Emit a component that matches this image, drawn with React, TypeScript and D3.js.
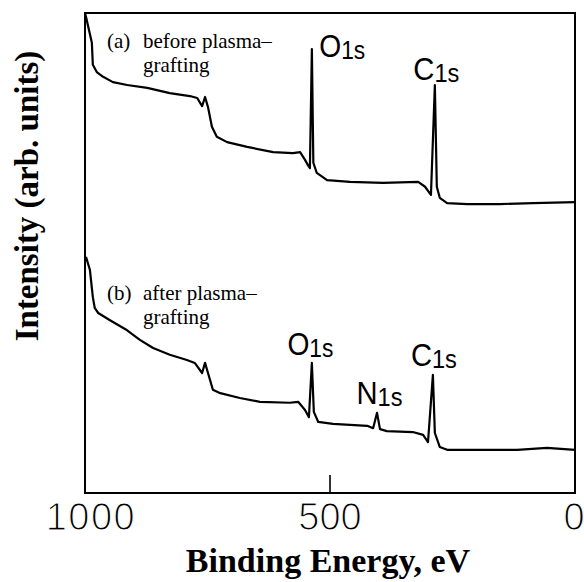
import { useEffect, useRef } from "react";
import * as d3 from "d3";

// XPS survey spectra (binding energy in eV, intensity in arb. units)
const energyA = [1000, 998, 986, 984, 976, 963, 943, 914, 873, 827, 786, 771, 761, 755, 749, 741, 731, 710, 669, 616, 576, 561, 551, 545, 541, 537, 534, 527, 506, 459, 392, 320, 306, 294, 286, 282, 276, 261, 220, 153, 86, 0];
const intensityA = [100, 99.2, 93.8, 89.2, 87.7, 86.7, 85.6, 85.0, 84.4, 83.3, 82.7, 82.3, 80.6, 82.5, 80.4, 76.3, 74.2, 73.1, 72.1, 71.0, 70.8, 71.0, 69.4, 68.3, 67.7, 92.5, 68.8, 66.7, 65.2, 64.8, 64.6, 64.8, 63.8, 62.1, 85.0, 63.8, 61.5, 60.4, 60.2, 60.2, 60.4, 60.6];

const energyB = [998, 990, 984, 980, 973, 949, 914, 888, 861, 827, 792, 776, 761, 755, 749, 739, 724, 684, 643, 582, 565, 551, 543, 537, 533, 524, 494, 424, 412, 404, 398, 384, 331, 310, 300, 290, 286, 276, 261, 200, 118, 57, 0];
const intensityB = [49.2, 46.5, 40.8, 38.5, 37.5, 36.0, 33.9, 31.9, 30.2, 28.8, 27.7, 27.1, 25.0, 27.1, 25.0, 21.5, 20.8, 19.8, 19.0, 18.8, 19.0, 17.3, 15.8, 27.1, 16.9, 14.8, 14.4, 14.0, 13.5, 16.7, 13.3, 12.9, 12.7, 12.1, 10.6, 24.6, 12.5, 9.6, 9.0, 9.0, 9.0, 9.4, 9.0];

const xTicks = [1000, 500, 0];

// peak labels: element, energy (label anchor), intensity (baseline), anchor
const peakNames = ["O", "C", "O", "N", "C"];
const peakEnergy = [522, 283, 540, 399, 288];
const peakLevel = [90.8, 86.0, 28.8, 18.5, 26.5];
const peakAnchor = ["start", "middle", "middle", "middle", "middle"];

export default function App() {
  const ref = useRef<SVGSVGElement | null>(null);

  useEffect(() => {
    const svgEl = ref.current;
    if (!svgEl) return;

    const width = 584;
    const height = 582;
    const margin = { top: 13, right: 9, bottom: 89, left: 85 };

    const svg = d3.select(svgEl);
    svg.selectAll("*").remove();
    svg.attr("width", width).attr("height", height);

    const x = d3.scaleLinear().domain([1000, 0]).range([margin.left, width - margin.right]);
    const y = d3.scaleLinear().domain([0, 100]).range([height - margin.bottom, margin.top]);

    const sans = "'Liberation Sans', Arial, Helvetica, sans-serif";
    const serif = "'Liberation Serif', 'Times New Roman', Times, serif";

    // ------- frame -------
    svg.append("rect")
      .attr("x", x(1000))
      .attr("y", y(100))
      .attr("width", x(0) - x(1000))
      .attr("height", y(0) - y(100))
      .attr("fill", "none")
      .attr("stroke", "#000")
      .attr("stroke-width", 2);

    // only the middle tick is drawn, pointing inward
    svg.append("line")
      .attr("x1", x(500)).attr("x2", x(500))
      .attr("y1", y(0)).attr("y2", y(0) - 18)
      .attr("stroke", "#000")
      .attr("stroke-width", 1.6);

    // ------- tick labels (white stroke on top thins the glyphs) -------
    svg.selectAll("text.tick")
      .data(xTicks)
      .enter()
      .append("text")
      .attr("class", "tick")
      .attr("x", (d) => (d === 1000 ? x(d) + 6 : d === 0 ? x(d) - 1 : x(d)))
      .attr("y", y(0) + 37)
      .attr("text-anchor", "middle")
      .attr("font-family", sans)
      .attr("font-size", 38)
      .attr("letter-spacing", (d) => (d === 1000 ? 1.5 : 0))
      .attr("fill", "#000")
      .attr("stroke", "#fff")
      .attr("stroke-width", 1.2)
      .text((d) => d);

    // ------- axis titles -------
    svg.append("text")
      .attr("x", 328)
      .attr("y", 572)
      .attr("text-anchor", "middle")
      .attr("font-family", serif)
      .attr("font-weight", "bold")
      .attr("font-size", 34)
      .text("Binding Energy, eV");

    svg.append("text")
      .attr("transform", "translate(38,196) rotate(-90)")
      .attr("text-anchor", "middle")
      .attr("font-family", serif)
      .attr("font-weight", "bold")
      .attr("font-size", 33)
      .text("Intensity (arb. units)");

    // ------- spectra -------
    const line = d3.line<[number, number]>()
      .x((d) => x(d[0]))
      .y((d) => y(d[1]));

    [
      d3.zip(energyA, intensityA) as [number, number][],
      d3.zip(energyB, intensityB) as [number, number][],
    ].forEach((pts) => {
      svg.append("path")
        .attr("d", line(pts))
        .attr("fill", "none")
        .attr("stroke", "#000")
        .attr("stroke-width", 2.2)
        .attr("stroke-linejoin", "round");
    });

    // ------- sample annotations -------
    const notes = [
      { tag: "(a)", l1: "before plasma\u2013", top: 48 },
      { tag: "(b)", l1: "after plasma\u2013", top: 300 },
    ];
    notes.forEach((n) => {
      const g = svg.append("g").attr("font-family", serif).attr("font-size", 21).attr("fill", "#000");
      g.append("text").attr("x", 107).attr("y", n.top).text(n.tag);
      g.append("text").attr("x", 143).attr("y", n.top).text(n.l1);
      g.append("text").attr("x", 143).attr("y", n.top + 24).text("grafting");
    });

    // ------- peak labels -------
    peakNames.forEach((name, i) => {
      const t = svg.append("text")
        .attr("x", x(peakEnergy[i]))
        .attr("y", y(peakLevel[i]))
        .attr("text-anchor", peakAnchor[i])
        .attr("font-family", sans)
        .attr("fill", "#000")
        .attr("textLength", 46)
        .attr("lengthAdjust", "spacingAndGlyphs");
      t.append("tspan").attr("font-size", 31).text(name);
      t.append("tspan").attr("font-size", 25).attr("dy", 2).text("1s");
    });
  }, []);

  return (
    <svg ref={ref} style={{ position: "absolute", left: 0, top: 0, background: "#fff" }} />
  );
}
